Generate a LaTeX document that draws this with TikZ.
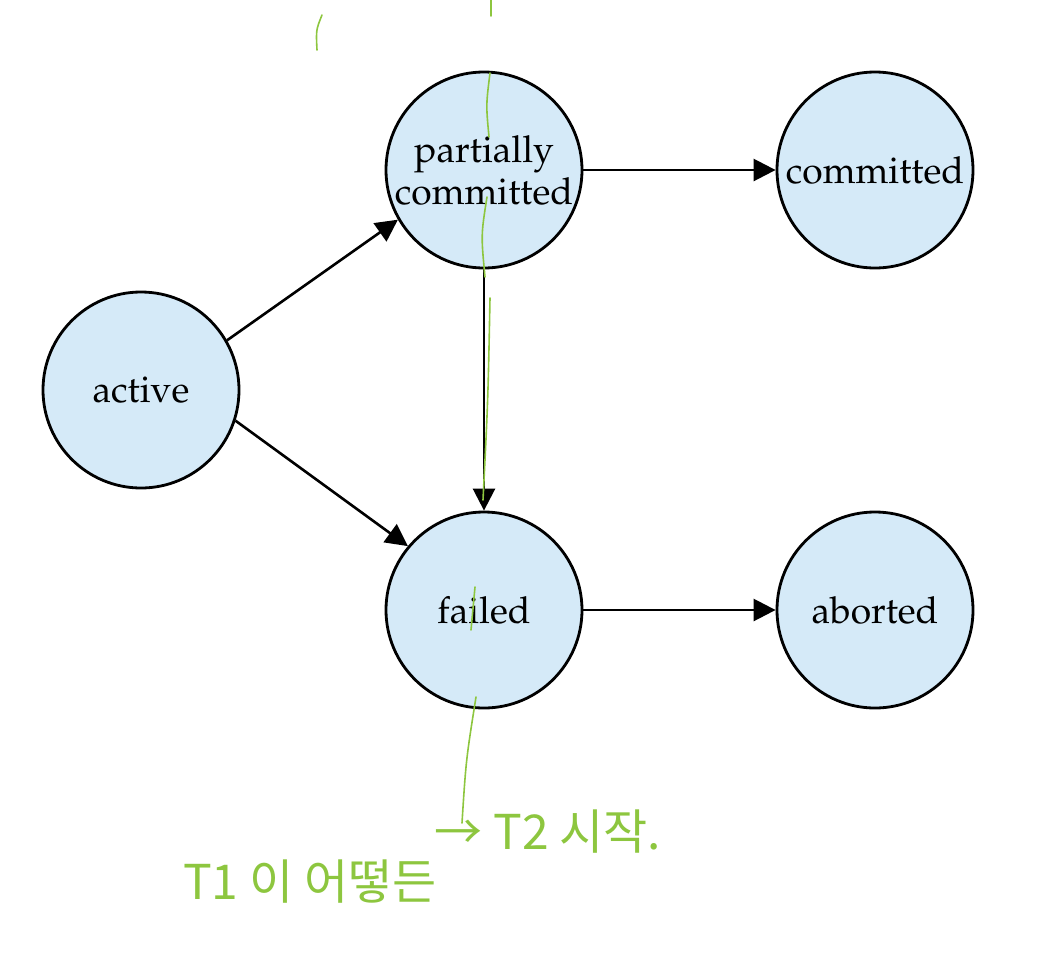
\documentclass[tikz,border=0pt]{standalone}
\usepackage[T1]{fontenc}
\usepackage{fontspec}
\usetikzlibrary{arrows.meta}
\newfontfamily\krfont{Noto Sans CJK KR}
\definecolor{StateBlue}{HTML}{D5EAF8}
\definecolor{Pen}{HTML}{8DC63F}
\newcommand{\palfont}{\fontencoding{T1}\fontfamily{ppl}\fontsize{18.6}{21}\selectfont}
\tikzset{
  state/.style={circle,draw=black,line width=1.4pt,fill=StateBlue,
    minimum size=98pt,inner sep=0pt,align=center,font=\palfont},
  trans/.style={line width=1.3pt,-{Triangle[length=11pt,width=11pt]}},
  pen/.style={draw=Pen,line width=0.8pt,line cap=round},
  note/.style={text=Pen,font=\krfont\fontsize{24}{28}\selectfont,inner sep=0pt}
}
\begin{document}
\begin{tikzpicture}[x=0.5pt,y=-0.5pt]
    \useasboundingbox (0,0) rectangle (1056,954);
    % states
    \node[state] (active)    at (141,390) {active};
    \node[state] (partial)   at (484,170) {partially\\committed};
    \node[state] (committed) at (875,170) {committed};
    \node[state] (failed)    at (484,610) {failed};
    \node[state] (aborted)   at (875,610) {aborted};
    % transitions
    \draw[trans] (active.30) -- (partial.210);
    \draw[trans] (active.-18) -- (failed.140);
    \draw[trans] (partial) -- (committed);
    \draw[trans] (partial) -- (failed);
    \draw[trans] (failed) -- (aborted);
    % handwritten marks
    \draw[pen] (322,15) .. controls (316,30) .. (317,50);
    \draw[pen] (491,0) -- (491,16);
    \draw[pen] (490,73) .. controls (486,105) .. (489,137);
    \draw[pen] (487,197) .. controls (481,235) .. (485,277);
    \draw[pen] (490,298) .. controls (488,400) .. (483,500);
    \draw[pen] (475,587) -- (471,630);
    \draw[pen] (476,697) .. controls (466,760) .. (462,823);
    \node[note] (noteA) at (310,882) {T1 이 어떻든};
    \node[note] (noteB) at (548,832) {→ T2 시작.};
\end{tikzpicture}
\end{document}
